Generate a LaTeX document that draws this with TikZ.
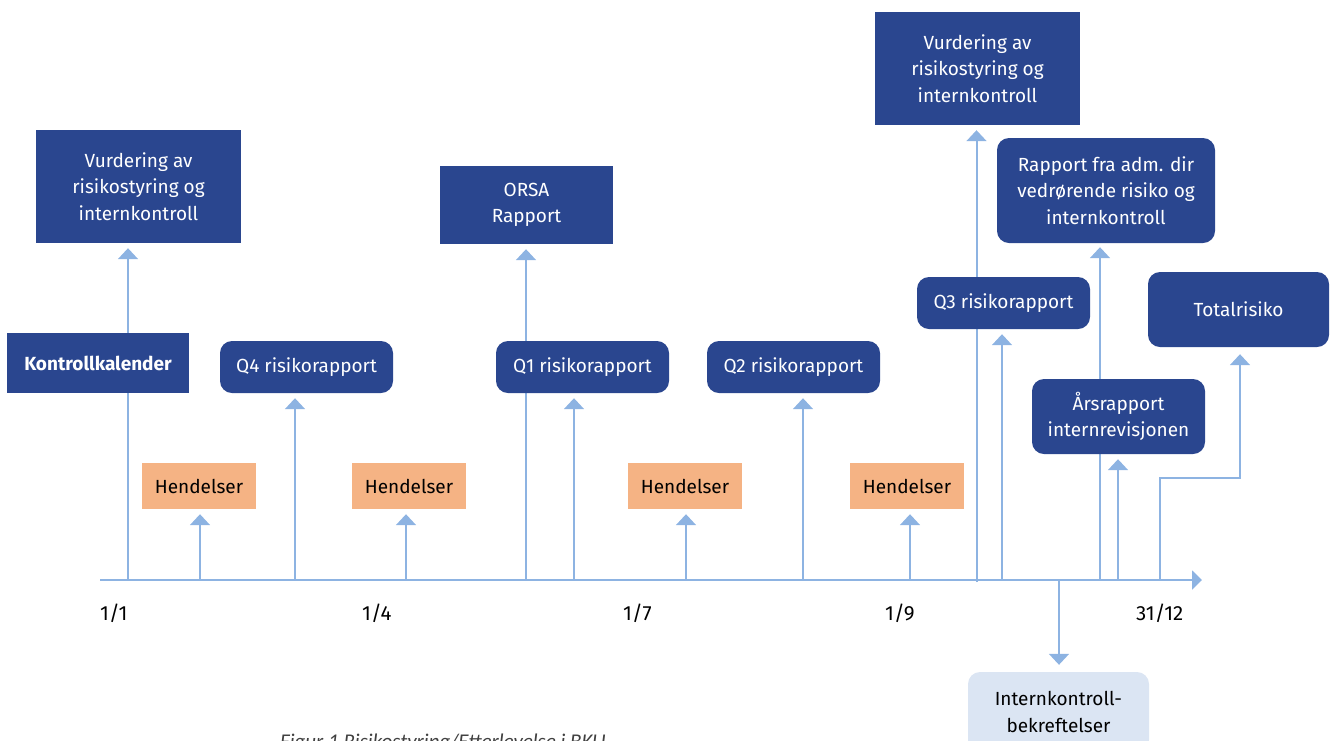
\documentclass[tikz,border=0pt]{standalone}
\usepackage{fontspec}
\setmainfont{Fira Sans}
\newfontfamily\capfont{Carlito}
\usetikzlibrary{arrows.meta}
\pgfdeclarelayer{bg}
\pgfsetlayers{bg,main}
\definecolor{navy}{HTML}{2A468F}
\definecolor{lblue}{HTML}{8DB3E2}
\definecolor{peach}{HTML}{F5B384}
\definecolor{pale}{HTML}{DBE5F3}
\definecolor{capgray}{HTML}{404040}
\begin{document}
\begin{tikzpicture}[x=1pt,y=-1pt,
  box/.style={fill=navy,text=white,align=center,inner sep=0pt,font=\fontsize{19}{26.5}\selectfont},
  sqbox/.style={box},
  rbox/.style={box,rounded corners=12pt},
  ev/.style={fill=peach,text=black,inner sep=0pt,minimum width=114pt,minimum height=46pt,font=\fontsize{19}{20}\selectfont},
  conn/.style={draw=lblue,line width=2pt},
  arr/.style={conn,-{Triangle[width=20pt,length=11pt]},shorten >=5pt},
  datelbl/.style={anchor=base west,inner sep=0pt,font=\fontsize{20.5}{22}\selectfont}]
\useasboundingbox (0,0) rectangle (1336,740);
\clip (0,0) rectangle (1336,740);

% boxes
\node[sqbox,minimum width=205pt,minimum height=113pt] (vurd1) at (138.5,186.5) {Vurdering av\\risikostyring og\\internkontroll};
\node[sqbox,minimum width=182pt,minimum height=60pt,font=\fontsize{19}{22}\selectfont\bfseries] (kal) at (98,363) {Kontrollkalender};
\node[rbox,minimum width=173pt,minimum height=52pt] (q4) at (306.5,367) {Q4 risikorapport};
\node[ev] (h1) at (199,486) {Hendelser};
\node[ev] (h2) at (409,486) {Hendelser};
\node[sqbox,minimum width=173pt,minimum height=78pt] (orsa) at (526.5,205) {ORSA\\Rapport};
\node[rbox,minimum width=173pt,minimum height=52pt] (q1) at (582.5,367) {Q1 risikorapport};
\node[ev] (h3) at (685,486) {Hendelser};
\node[rbox,minimum width=173pt,minimum height=52pt] (q2) at (793.5,367) {Q2 risikorapport};
\node[ev] (h4) at (907,486) {Hendelser};
\node[sqbox,minimum width=205pt,minimum height=113pt] (vurd2) at (977.5,68.5) {Vurdering av\\risikostyring og\\internkontroll};
\node[rbox,minimum width=173pt,minimum height=52pt] (q3) at (1003.5,303) {Q3 risikorapport};
\node[rbox,minimum width=218pt,minimum height=105pt] (adm) at (1106,190.5) {Rapport fra adm. dir\\vedrørende risiko og\\internkontroll};
\node[rbox,minimum width=173pt,minimum height=75pt] (aars) at (1118.5,416.5) {Årsrapport\\internrevisjonen};
\node[rbox,minimum width=181pt,minimum height=75pt] (total) at (1238.5,309.5) {Totalrisiko};
\node[box,fill=pale,text=black,rounded corners=12pt,minimum width=181pt,minimum height=80pt] (ik) at (1058.5,712) {Internkontroll-\\bekreftelser};

% axis points
\coordinate (o) at (100,580);
\coordinate (e) at (1202,580);
\coordinate (t1) at (128,580);
\coordinate (t2) at (200,580);
\coordinate (t3) at (295,580);
\coordinate (t4) at (406,580);
\coordinate (t5) at (526,580);
\coordinate (t6) at (574,580);
\coordinate (t7) at (686,580);
\coordinate (t8) at (803,580);
\coordinate (t9) at (910,580);
\coordinate (t10) at (976.5,582);
\coordinate (t11) at (1002,580);
\coordinate (t12) at (1059,580);
\coordinate (t13) at (1100,580);
\coordinate (t14) at (1118,580);
\coordinate (t15) at (1160,580);
\coordinate (bend) at (1240,478);

\begin{pgfonlayer}{bg}
\draw[conn,-{Triangle[width=19pt,length=10pt]}] (o) -- (e);
\draw[arr] (t1) -- (t1 |- vurd1.south);
\draw[arr] (t2) -- (t2 |- h1.south);
\draw[arr] (t3) -- (t3 |- q4.south);
\draw[arr] (t4) -- (t4 |- h2.south);
\draw[arr] (t5) -- (t5 |- orsa.south);
\draw[arr] (t6) -- (t6 |- q1.south);
\draw[arr] (t7) -- (t7 |- h3.south);
\draw[arr] (t8) -- (t8 |- q2.south);
\draw[arr] (t9) -- (t9 |- h4.south);
\draw[arr] (t10) -- (t10 |- vurd2.south);
\draw[arr] (t11) -- (t11 |- q3.south);
\draw[arr,shorten >=7pt] (t12) -- (t12 |- ik.north);
\draw[arr,shorten >=4pt] (t13) -- (t13 |- adm.south);
\draw[arr] (t14) -- (t14 |- aars.south);
\draw[arr,shorten >=7pt] (t15) |- (bend) -- (bend |- total.south);
\end{pgfonlayer}

% dates
\node[datelbl] (d1) at (100,620) {1/1};
\node[datelbl] (d2) at (362,620) {1/4};
\node[datelbl] (d3) at (623,620) {1/7};
\node[datelbl] (d4) at (885,620) {1/9};
\node[datelbl] (d5) at (1136,620) {31/12};

% caption
\node[anchor=base west,inner sep=0pt,text=capgray,font=\capfont\itshape\fontsize{21}{22}\selectfont] (cap) at (280,748) {Figur 1 Risikostyring/Etterlevelse i BKU};
\end{tikzpicture}
\end{document}
